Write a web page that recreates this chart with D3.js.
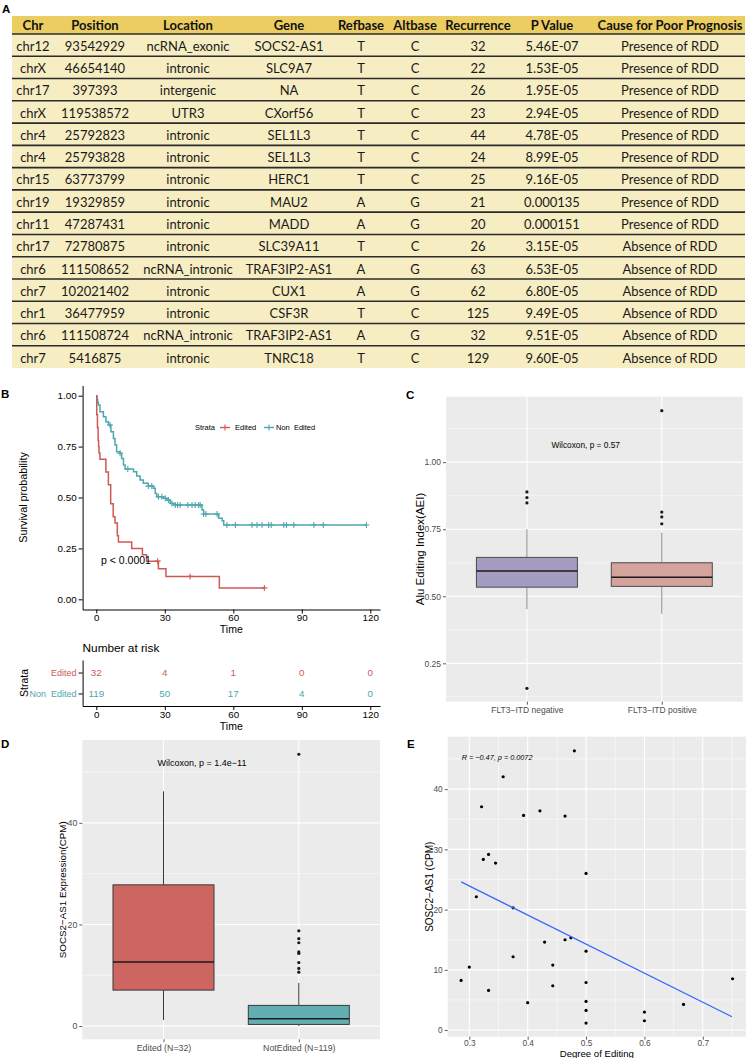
<!DOCTYPE html>
<html lang="en">
<head>
<meta charset="UTF-8">
<title>RNA editing figure</title>
<style>
  body { margin: 0; background: #fff; }
  svg { display: block; }
  .gg text { font-family: "Liberation Sans", Arial, sans-serif; }
</style>
</head>
<body>
<svg id="fig" width="748" height="1058"></svg>
<script src="https://cdn.jsdelivr.net/npm/d3@7"></script>
<script>
// ---------- A: table data ----------
const tableHeader = ["Chr", "Position", "Location", "Gene", "Refbase", "Altbase", "Recurrence", "P Value", "Cause for Poor Prognosis"];
const chroms = ["chr12", "chrX", "chr17", "chrX", "chr4", "chr4", "chr15", "chr19", "chr11", "chr17", "chr6", "chr7", "chr1", "chr6", "chr7"];
const positions = ["93542929", "46654140", "397393", "119538572", "25792823", "25793828", "63773799", "19329859", "47287431", "72780875", "111508652", "102021402", "36477959", "111508724", "5416875"];
const locations = ["ncRNA_exonic", "intronic", "intergenic", "UTR3", "intronic", "intronic", "intronic", "intronic", "intronic", "intronic", "ncRNA_intronic", "intronic", "intronic", "ncRNA_intronic", "intronic"];
const genes = ["SOCS2-AS1", "SLC9A7", "NA", "CXorf56", "SEL1L3", "SEL1L3", "HERC1", "MAU2", "MADD", "SLC39A11", "TRAF3IP2-AS1", "CUX1", "CSF3R", "TRAF3IP2-AS1", "TNRC18"];
const refbases = ["T", "T", "T", "T", "T", "T", "T", "A", "A", "T", "A", "A", "T", "A", "T"];
const altbases = ["C", "C", "C", "C", "C", "C", "C", "G", "G", "C", "G", "G", "C", "G", "C"];
const recurrences = [32, 22, 26, 23, 44, 24, 25, 21, 20, 26, 63, 62, 125, 32, 129];
const pValues = ["5.46E-07", "1.53E-05", "1.95E-05", "2.94E-05", "4.78E-05", "8.99E-05", "9.16E-05", "0.000135", "0.000151", "3.15E-05", "6.53E-05", "6.80E-05", "9.49E-05", "9.51E-05", "9.60E-05"];
const causes = ["Presence of RDD", "Presence of RDD", "Presence of RDD", "Presence of RDD", "Presence of RDD", "Presence of RDD", "Presence of RDD", "Presence of RDD", "Presence of RDD", "Absence of RDD", "Absence of RDD", "Absence of RDD", "Absence of RDD", "Absence of RDD", "Absence of RDD"];

// ---------- B: survival ----------
const editedTime = [0, 0.2, 0.5, 0.8, 1.0, 1.2, 1.6, 4.2, 5.3, 6.3, 7.4, 8.2, 9.2, 9.7, 15.5, 20.2, 22.0, 27.2, 30.5, 53.9];
const editedSurv = [1, 0.906, 0.844, 0.781, 0.75, 0.719, 0.688, 0.625, 0.5625, 0.469, 0.406, 0.375, 0.3125, 0.281, 0.25, 0.219, 0.1875, 0.15, 0.1125, 0.056];
const editedEnd = 73.6;
const editedCensor = [26.9, 41.1, 73.6];
const nonEditedTime = [0, 0.3, 0.6, 0.9, 1.6, 3.1, 4.2, 5.3, 6.4, 7.5, 8.2, 8.9, 10.4, 11.1, 11.9, 12.6, 16.3, 17.7, 19.2, 20.6, 22.8, 25.0, 25.8, 26.5, 29.4, 30.9, 32.4, 34.0, 46.3, 47.0, 53.6, 55.1, 55.8];
const nonEditedSurv = [1, 0.983, 0.966, 0.954, 0.921, 0.897, 0.872, 0.856, 0.823, 0.79, 0.758, 0.725, 0.717, 0.692, 0.66, 0.64, 0.627, 0.606, 0.586, 0.57, 0.556, 0.545, 0.52, 0.504, 0.496, 0.488, 0.471, 0.463, 0.439, 0.419, 0.398, 0.386, 0.365];
const nonEditedEnd = 118.3;
const nonEditedCensor = [6.0, 10.4, 13.8, 22.8, 24.3, 27.2, 28.7, 30.2, 31.6, 33.1, 34.6, 35.6, 36.7, 40.1, 41.9, 43.3, 44.8, 45.5, 47.0, 48.0, 52.9, 57.2, 60.9, 68.2, 70.4, 72.6, 75.5, 76.6, 82.1, 83.3, 86.5, 95.3, 99.4, 118.3];
const timeTicks = [0, 30, 60, 90, 120];
const survTicks = [0, 0.25, 0.5, 0.75, 1];
const strata = ["Edited", "Non  Edited"];
const editedRisk = [32, 4, 1, 0, 0];
const nonEditedRisk = [119, 50, 17, 4, 0];

// ---------- C: AEI boxplot ----------
const cGroups = ["FLT3\u2212ITD negative", "FLT3\u2212ITD positive"];
const cLower = [0.452, 0.435];
const cQ1 = [0.534, 0.537];
const cMedian = [0.594, 0.571];
const cQ3 = [0.645, 0.625];
const cUpper = [0.75, 0.737];
const cOutliers = [[0.889, 0.868, 0.848, 0.157], [1.192, 0.814, 0.796, 0.770]];
const cTicks = [0.25, 0.5, 0.75, 1.0];

// ---------- D: SOCS2-AS1 boxplot ----------
const dGroups = ["Edited (N=32)", "NotEdited (N=119)"];
const dLower = [1.18, 0.0];
const dQ1 = [7.08, 0.33];
const dMedian = [12.6, 1.44];
const dQ3 = [27.8, 4.07];
const dUpper = [46.2, 8.5];
const dOutliers = [[], [53.5, 18.75, 17.2, 16.4, 14.6, 14.3, 12.5, 11.35, 10.6]];
const dTicks = [0, 20, 40];

// ---------- E: scatter ----------
const editDegree = [0.286, 0.300, 0.312, 0.321, 0.324, 0.333, 0.333, 0.345, 0.358, 0.375, 0.375, 0.393, 0.400, 0.421, 0.429, 0.443, 0.443, 0.464, 0.464, 0.474, 0.480, 0.5, 0.5, 0.5, 0.5, 0.5, 0.5, 0.6, 0.6, 0.667, 0.751];
const socsCpm = [8.24, 10.46, 22.13, 37.07, 28.33, 29.16, 6.58, 27.72, 42.05, 20.30, 12.17, 35.63, 4.54, 36.40, 14.61, 10.79, 7.36, 35.52, 14.99, 15.32, 46.36, 26.0, 13.1, 7.9, 4.76, 3.26, 1.16, 2.99, 1.55, 4.26, 8.52];
const fitX = [0.286, 0.75];
const fitY = [24.6, 2.2];
const eXTicks = [0.3, 0.4, 0.5, 0.6, 0.7];
const eYTicks = [0, 10, 20, 30, 40];

const svg = d3.select('#fig');
svg.append('rect').attr('width', 748).attr('height', 1058).attr('fill', '#fff');

// panel letters
const letters = [["A", 2, 13], ["B", 1, 398], ["C", 406, 399], ["D", 1, 748], ["E", 407, 748]];
svg.selectAll('.letter').data(letters).enter().append('text')
  .attr('x', d => d[1]).attr('y', d => d[2])
  .attr('font-family', 'Liberation Sans, Arial, sans-serif')
  .attr('font-weight', 'bold').attr('font-size', 11.5)
  .text(d => d[0]);

// ===== A: table =====
const gA = svg.append('g');
const tLeft = 12, tRight = 745, headTop = 16, headBottom = 34, rowH = 22.27;
const colX = [33, 95, 188, 289, 361, 415, 478, 552, 670];
const rows = chroms.map((c, i) => [c, positions[i], locations[i], genes[i], refbases[i], altbases[i], recurrences[i], pValues[i], causes[i]]);

gA.append('rect').attr('x', tLeft).attr('y', headTop).attr('width', tRight - tLeft).attr('height', headBottom - headTop).attr('fill', '#EBCD62');
gA.append('rect').attr('x', tLeft).attr('y', headBottom).attr('width', tRight - tLeft).attr('height', rowH * rows.length).attr('fill', '#F7EDC2');

gA.selectAll('.hdr').data(tableHeader).enter().append('text')
  .attr('x', (d, i) => colX[i]).attr('y', (headTop + headBottom) / 2)
  .attr('dy', '0.36em').attr('text-anchor', 'middle')
  .attr('font-family', 'Lato, sans-serif').attr('font-weight', 'bold').attr('font-size', 13)
  .attr('fill', '#111').text(d => d);

rows.forEach((r, i) => {
  const yTop = headBottom + i * rowH;
  gA.append('line').attr('x1', tLeft).attr('x2', tRight).attr('y1', yTop).attr('y2', yTop)
    .attr('stroke', '#2b2b2b').attr('stroke-width', 1.6);
  gA.selectAll(null).data(r).enter().append('text')
    .attr('x', (d, j) => colX[j]).attr('y', yTop + rowH / 2 + 1)
    .attr('dy', '0.36em').attr('text-anchor', 'middle')
    .attr('font-family', 'Lato, sans-serif').attr('font-size', 13)
    .attr('fill', '#1a1a1a').text(d => d);
});

// ===== B: survival =====
const red = '#CD5A55', teal = '#4FA6AE';
const gB = svg.append('g').attr('class', 'gg');
const bx = d3.scaleLinear().domain([-6, 124.25]).range([82.6, 380]);
const by = d3.scaleLinear().domain([-0.05, 1.05]).range([609.5, 385.5]);

function styleAxis(sel, size, col) {
  sel.attr('font-family', null).attr('font-size', null);
  sel.selectAll('path').attr('stroke', '#000').attr('stroke-width', 1);
  sel.selectAll('line').attr('stroke', '#000');
  sel.selectAll('text').attr('font-size', size).attr('fill', col || '#000');
}

gB.append('g').attr('transform', 'translate(0,609.5)')
  .call(d3.axisBottom(bx).tickValues(timeTicks).tickSize(4).tickSizeOuter(0).tickPadding(1))
  .call(s => styleAxis(s, 9.8));
gB.append('g').attr('transform', 'translate(82.6,0)')
  .call(d3.axisLeft(by).tickValues(survTicks).tickFormat(d3.format('.2f')).tickSize(4).tickSizeOuter(0).tickPadding(2))
  .call(s => styleAxis(s, 9.8));

gB.append('text').attr('x', 231.3).attr('y', 633).attr('text-anchor', 'middle').attr('font-size', 10.5).text('Time');
gB.append('text').attr('transform', 'translate(27,497.5) rotate(-90)').attr('text-anchor', 'middle').attr('font-size', 10.8).text('Survival probability');

function stepValue(times, survs, t) {
  let v = survs[0];
  times.forEach((tt, i) => { if (tt <= t) v = survs[i]; });
  return v;
}
const survLine = d3.line().x(d => bx(d[0])).y(d => by(d[1])).curve(d3.curveStepAfter);
const curves = [
  { times: nonEditedTime, survs: nonEditedSurv, end: nonEditedEnd, censor: nonEditedCensor, col: teal },
  { times: editedTime, survs: editedSurv, end: editedEnd, censor: editedCensor, col: red }
];
curves.forEach(c => {
  const pts = c.times.map((t, i) => [t, c.survs[i]]);
  pts.push([c.end, c.survs[c.survs.length - 1]]);
  gB.append('path').datum(pts).attr('d', survLine).attr('fill', 'none')
    .attr('stroke', c.col).attr('stroke-width', 1.5);
  gB.selectAll(null).data(c.censor).enter().append('path')
    .attr('transform', t => `translate(${bx(t)},${by(stepValue(c.times, c.survs, t))})`)
    .attr('d', 'M-3,0H3M0,-3V3').attr('stroke', c.col).attr('stroke-width', 1.1);
});

gB.append('text').attr('x', 101).attr('y', 564).attr('font-size', 10.5).text('p < 0.0001');

// legend
const lg = gB.append('g').attr('font-size', 7.5);
lg.append('text').attr('x', 195).attr('y', 430).text('Strata');
[[220, red, 'Edited', 235], [264, teal, 'Non  Edited', 276]].forEach(l => {
  lg.append('line').attr('x1', l[0]).attr('x2', l[0] + 10).attr('y1', 427.5).attr('y2', 427.5).attr('stroke', l[1]).attr('stroke-width', 1.4);
  lg.append('path').attr('d', `M${l[0] + 2},427.5H${l[0] + 8}M${l[0] + 5},424.5V430.5`).attr('stroke', l[1]).attr('stroke-width', 1.1);
  lg.append('text').attr('x', l[3]).attr('y', 430).style('white-space', 'pre').text(l[2]);
});

// risk table
const gR = svg.append('g').attr('class', 'gg');
const ry = d3.scalePoint().domain(['Non  Edited', 'Edited']).range([706, 660]).padding(0.6);
gR.append('text').attr('x', 82.6).attr('y', 652).attr('font-size', 11.8).text('Number at risk');
gR.append('g').attr('transform', 'translate(0,706)')
  .call(d3.axisBottom(bx).tickValues(timeTicks).tickSize(4).tickSizeOuter(0).tickPadding(1))
  .call(s => styleAxis(s, 9.8));
const rAxis = gR.append('g').attr('transform', 'translate(82.6,0)')
  .call(d3.axisLeft(ry).tickSize(4).tickSizeOuter(0).tickPadding(2))
  .call(s => styleAxis(s, 9));
rAxis.selectAll('text').attr('fill', d => d === 'Edited' ? red : teal).style('white-space', 'pre');
gR.append('text').attr('x', 231.3).attr('y', 730).attr('text-anchor', 'middle').attr('font-size', 10.5).text('Time');
gR.append('text').attr('transform', 'translate(28,683) rotate(-90)').attr('text-anchor', 'middle').attr('font-size', 10.5).text('Strata');
[[editedRisk, 'Edited', red], [nonEditedRisk, 'Non  Edited', teal]].forEach(r => {
  gR.selectAll(null).data(r[0]).enter().append('text')
    .attr('x', (d, i) => bx(timeTicks[i])).attr('y', ry(r[1])).attr('dy', '0.36em')
    .attr('text-anchor', 'middle').attr('font-size', 9.8).attr('fill', r[2]).text(d => d);
});

// ===== ggplot-style helpers =====
function ggFrame(g, x, y, xMajor, yMajor, xMinor, yMinor) {
  const [x0, x1] = x.range(), [y0, y1] = [y.range()[0], y.range()[1]];
  g.append('rect').attr('x', x0).attr('y', y1).attr('width', x1 - x0).attr('height', y0 - y1).attr('fill', '#EBEBEB');
  g.selectAll(null).data(yMinor).enter().append('line')
    .attr('x1', x0).attr('x2', x1).attr('y1', d => y(d)).attr('y2', d => y(d)).attr('stroke', '#fff').attr('stroke-width', 0.5);
  g.selectAll(null).data(xMinor).enter().append('line')
    .attr('y1', y0).attr('y2', y1).attr('x1', d => x(d)).attr('x2', d => x(d)).attr('stroke', '#fff').attr('stroke-width', 0.5);
  g.selectAll(null).data(yMajor).enter().append('line')
    .attr('x1', x0).attr('x2', x1).attr('y1', d => y(d)).attr('y2', d => y(d)).attr('stroke', '#fff').attr('stroke-width', 1.1);
  g.selectAll(null).data(xMajor).enter().append('line')
    .attr('y1', y0).attr('y2', y1).attr('x1', d => x(d)).attr('x2', d => x(d)).attr('stroke', '#fff').attr('stroke-width', 1.1);
}
function ggAxes(g, x, y, xTicks, yTicks, fs, yFmt, xFmt, xPad) {
  const ax = g.append('g').attr('transform', `translate(0,${y.range()[0]})`)
    .call(d3.axisBottom(x).tickValues(xTicks).tickSize(3).tickSizeOuter(0).tickPadding(xPad === undefined ? 2 : xPad).tickFormat(xFmt || null));
  const ay = g.append('g').attr('transform', `translate(${x.range()[0]},0)`)
    .call(d3.axisLeft(y).tickValues(yTicks).tickSize(3).tickSizeOuter(0).tickPadding(2).tickFormat(yFmt || null));
  [ax, ay].forEach(a => {
    a.attr('font-family', null).attr('font-size', null);
    a.select('.domain').remove();
    a.selectAll('line').attr('stroke', '#333').attr('stroke-width', 0.8);
    a.selectAll('text').attr('font-size', fs).attr('fill', '#4D4D4D');
  });
}
function drawBoxes(g, x, y, groups, lo, q1, med, q3, hi, outl, fills, boxW, edge, whisk) {
  groups.forEach((grp, i) => {
    const cx = x(grp);
    g.append('line').attr('x1', cx).attr('x2', cx).attr('y1', y(hi[i])).attr('y2', y(q3[i])).attr('stroke', whisk).attr('stroke-width', 1);
    g.append('line').attr('x1', cx).attr('x2', cx).attr('y1', y(q1[i])).attr('y2', y(lo[i])).attr('stroke', whisk).attr('stroke-width', 1);
    g.append('rect').attr('x', cx - boxW / 2).attr('y', y(q3[i])).attr('width', boxW).attr('height', y(q1[i]) - y(q3[i]))
      .attr('fill', fills[i]).attr('stroke', edge).attr('stroke-width', 1);
    g.append('line').attr('x1', cx - boxW / 2).attr('x2', cx + boxW / 2).attr('y1', y(med[i])).attr('y2', y(med[i]))
      .attr('stroke', '#1a1a1a').attr('stroke-width', 1.5);
    g.selectAll(null).data(outl[i]).enter().append('circle')
      .attr('cx', cx).attr('cy', d => y(d)).attr('r', 1.6).attr('fill', '#1a1a1a');
  });
}

// ===== C =====
const gC = svg.append('g').attr('class', 'gg');
const cx = d3.scalePoint().domain(cGroups).range([446, 742.7]).padding(0.6);
const cy = d3.scaleLinear().domain([0.107, 1.244]).range([701.7, 396.7]);
ggFrame(gC, cx, cy, cGroups, cTicks, [], [0.125, 0.375, 0.625, 0.875, 1.125]);
ggAxes(gC, cx, cy, cGroups, cTicks, 8.5, d3.format('.2f'));
drawBoxes(gC, cx, cy, cGroups, cLower, cQ1, cMedian, cQ3, cUpper, cOutliers, ['#A59CC1', '#D4A39B'], 101, '#4a4a4a', '#8a8a8a');
gC.append('text').attr('x', 585.7).attr('y', 448).attr('text-anchor', 'middle').attr('font-size', 8.3).text('Wilcoxon, p = 0.57');
gC.append('text').attr('transform', 'translate(424,549) rotate(-90)').attr('text-anchor', 'middle').attr('font-size', 11.5).text('Alu Editing Index(AEI)');

// ===== D =====
const gD = svg.append('g').attr('class', 'gg');
const dx = d3.scalePoint().domain(dGroups).range([82.3, 380]).padding(0.6);
const dy = d3.scaleLinear().domain([-2.6, 56.3]).range([1039.3, 740]);
ggFrame(gD, dx, dy, dGroups, dTicks, [], [10, 30, 50]);
ggAxes(gD, dx, dy, dGroups, dTicks, 8.8);
drawBoxes(gD, dx, dy, dGroups, dLower, dQ1, dMedian, dQ3, dUpper, dOutliers, ['#CD6661', '#62AFB3'], 101, '#3a3a3a', '#3a3a3a');
gD.append('text').attr('x', 202).attr('y', 766).attr('text-anchor', 'middle').attr('font-size', 9).text('Wilcoxon, p = 1.4e\u221211');
gD.append('text').attr('transform', 'translate(66,889.7) rotate(-90)').attr('text-anchor', 'middle').attr('font-size', 9.8).text('SOCS2\u2212AS1 Expression(CPM)');

// ===== E =====
const gE = svg.append('g').attr('class', 'gg');
const ex = d3.scaleLinear().domain([0.263, 0.774]).range([447.7, 746]);
const ey = d3.scaleLinear().domain([-1.1, 48.7]).range([1036.7, 736.7]);
ggFrame(gE, ex, ey, eXTicks, eYTicks, [0.35, 0.45, 0.55, 0.65, 0.75], [5, 15, 25, 35, 45]);
ggAxes(gE, ex, ey, eXTicks, eYTicks, 8.3, null, d3.format('.1f'), 0);
gE.selectAll('.pt').data(editDegree).enter().append('circle')
  .attr('cx', d => ex(d)).attr('cy', (d, i) => ey(socsCpm[i])).attr('r', 1.6).attr('fill', '#000');
gE.append('line').attr('x1', ex(fitX[0])).attr('x2', ex(fitX[1])).attr('y1', ey(fitY[0])).attr('y2', ey(fitY[1]))
  .attr('stroke', '#3366FF').attr('stroke-width', 1.2);
gE.append('text').attr('x', 461.7).attr('y', 759.5).attr('font-size', 7.3).attr('font-style', 'italic').text('R = \u22120.47, p = 0.0072');
gE.append('text').attr('x', 596.8).attr('y', 1057.3).attr('text-anchor', 'middle').attr('font-size', 9.6).text('Degree of Editing');
gE.append('text').attr('transform', 'translate(433,886.7) rotate(-90)').attr('text-anchor', 'middle').attr('font-size', 10).text('SOSC2\u2212AS1 (CPM)');
</script>
</body>
</html>
